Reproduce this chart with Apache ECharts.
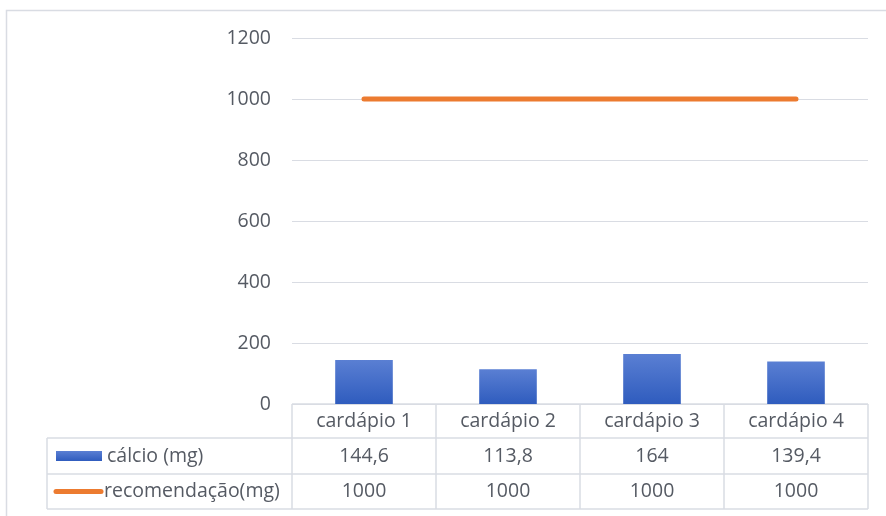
<!DOCTYPE html>
<html>
<head>
<meta charset="utf-8">
<script src="https://cdn.jsdelivr.net/npm/echarts@6/dist/echarts.min.js"></script>
<style>
  html, body { margin: 0; padding: 0; background: #ffffff; }
  #chart { width: 886px; height: 516px; }
</style>
</head>
<body>
<div id="chart"></div>
<script>
const categories = ["cardápio 1", "cardápio 2", "cardápio 3", "cardápio 4"]
const calcio = [144.6, 113.8, 164, 139.4]
const recomendacao = [1000, 1000, 1000, 1000]
const seriesNames = ["cálcio (mg)", "recomendação(mg)"]
const yTicks = { min: 0, max: 1200, interval: 200 }

const textColor = "#555a63"
const lineColor = "#d9dce3"
const font = "'Open Sans', 'Noto Sans', sans-serif"
const fontSize = 19.5

const fmt = v => String(v).replace(".", ",")

const chart = echarts.init(document.getElementById("chart"), null, { renderer: "canvas" })

chart.setOption({
  animation: false,
  grid: { left: 292, right: 18, top: 38, bottom: 112 },
  xAxis: {
    type: "category",
    data: categories,
    axisLine: { show: false },
    axisTick: { show: false },
    axisLabel: { show: false }
  },
  yAxis: {
    type: "value",
    min: yTicks.min,
    max: yTicks.max,
    interval: yTicks.interval,
    axisLine: { show: false },
    axisTick: { show: false },
    axisLabel: {
      color: textColor, fontSize: fontSize, fontFamily: font, margin: 21,
      formatter: v => String(v)
    },
    splitLine: { lineStyle: { color: lineColor, width: 1 } }
  },
  series: [
    {
      name: seriesNames[0],
      type: "bar",
      data: calcio,
      barWidth: "40%",
      itemStyle: {
        color: new echarts.graphic.LinearGradient(0, 0, 0, 1, [
          { offset: 0, color: "#5a7fd3" },
          { offset: 1, color: "#2f5cbe" }
        ])
      }
    },
    {
      name: seriesNames[1],
      type: "line",
      data: recomendacao,
      symbol: "none",
      lineStyle: { color: "#ec7b30", width: 5, cap: "round" },
      z: 3
    }
  ]
})

// data table under the plot, placed from the axis scales
function drawTable() {
  const c0 = chart.convertToPixel({ xAxisIndex: 0 }, 0)
  const c1 = chart.convertToPixel({ xAxisIndex: 0 }, 1)
  const band = c1 - c0
  const colLeft = c0 - band / 2
  const colRight = colLeft + band * categories.length
  const y0 = chart.convertToPixel({ yAxisIndex: 0 }, 0)
  const rowH = [34, 36, 35]
  const rowTop = [y0, y0 + rowH[0], y0 + rowH[0] + rowH[1]]
  const bottom = rowTop[2] + rowH[2]
  const tableLeft = 47

  const els = []
  const line = (x1, y1, x2, y2) => els.push({
    type: "line",
    shape: { x1: x1, y1: y1, x2: x2, y2: y2 },
    style: { stroke: lineColor, lineWidth: 1.5 },
    silent: true
  })
  const text = (x, y, s, align) => els.push({
    type: "text",
    x: x, y: y,
    style: { text: s, fill: textColor, font: fontSize + "px " + font, align: align || "center", verticalAlign: "middle" },
    silent: true
  })

  // outer frame of the chart
  els.push({
    type: "rect",
    shape: { x: 6.5, y: 10.5, width: 900, height: 520 },
    style: { fill: null, stroke: lineColor, lineWidth: 1.5 },
    silent: true
  })

  // horizontal rules
  line(colLeft, rowTop[0], colRight, rowTop[0])
  line(tableLeft, rowTop[1], colRight, rowTop[1])
  line(tableLeft, rowTop[2], colRight, rowTop[2])
  line(tableLeft, bottom, colRight, bottom)
  // vertical rules
  line(tableLeft, rowTop[1], tableLeft, bottom)
  for (let i = 0; i <= categories.length; i++) {
    line(colLeft + band * i, rowTop[0], colLeft + band * i, bottom)
  }

  categories.forEach((cat, i) => {
    const cx = colLeft + band * (i + 0.5)
    text(cx, rowTop[0] + rowH[0] / 2, cat)
    text(cx, rowTop[1] + rowH[1] / 2, fmt(calcio[i]))
    text(cx, rowTop[2] + rowH[2] / 2, fmt(recomendacao[i]))
  })

  // legend keys inside the row headers
  const r1 = rowTop[1] + rowH[1] / 2
  const r2 = rowTop[2] + rowH[2] / 2
  els.push({
    type: "rect",
    shape: { x: 56, y: r1 - 5, width: 46, height: 10 },
    style: {
      fill: new echarts.graphic.LinearGradient(0, 0, 0, 1, [
        { offset: 0, color: "#5a7fd3" },
        { offset: 1, color: "#2f5cbe" }
      ])
    },
    silent: true
  })
  els.push({
    type: "line",
    shape: { x1: 56, y1: r2, x2: 101, y2: r2 },
    style: { stroke: "#ec7b30", lineWidth: 5, lineCap: "round" },
    silent: true
  })
  text(107, r1, seriesNames[0], "left")
  text(104, r2, seriesNames[1], "left")

  chart.setOption({ graphic: { elements: els } })
}

drawTable()
</script>
</body>
</html>
